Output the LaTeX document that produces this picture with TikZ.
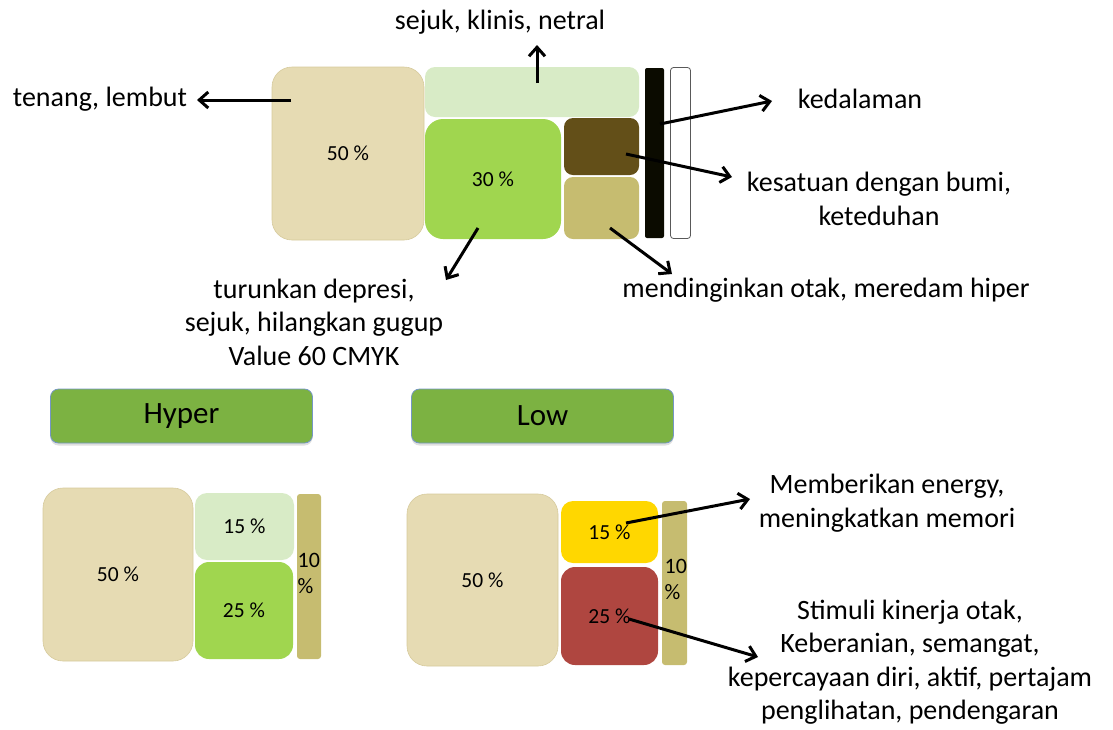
\documentclass[tikz,border=0pt]{standalone}
\usepackage{fontspec}
\setmainfont{Carlito}
\usetikzlibrary{arrows.meta,shadows}
\definecolor{beige}{HTML}{E6DBB3}
\definecolor{beigeline}{HTML}{D6CA9C}
\definecolor{lgreen}{HTML}{D8EBC6}
\definecolor{mgreen}{HTML}{A0D64F}
\definecolor{dbrown}{HTML}{634F18}
\definecolor{khaki}{HTML}{C6BC70}
\definecolor{nblack}{HTML}{0B0B00}
\definecolor{yel}{HTML}{FFD700}
\definecolor{rd}{HTML}{AF4640}
\definecolor{hdr}{HTML}{7CB242}
\definecolor{hdrline}{HTML}{7596C4}
\tikzset{
  blk/.style={inner sep=0pt, outer sep=0pt, font=\fontsize{21.5}{25}\selectfont},
  lbl/.style={align=center, inner sep=0pt, font=\fontsize{28}{33.5}\selectfont},
  hdrbox/.style={fill=hdr, draw=hdrline, line width=0.8pt, rounded corners=8pt, inner sep=0pt,
    minimum width=262pt, minimum height=54pt, font=\fontsize{31}{36}\selectfont,
    drop shadow={opacity=0.25, shadow xshift=0pt, shadow yshift=-2.5pt}},
  arr/.style={line width=3pt, -{Straight Barb[length=9pt,width=16pt,line width=3pt]}},
  ten/.style={align=left, anchor=north west, inner sep=0pt, font=\fontsize{22}{26}\selectfont}
}
\begin{document}
\begin{tikzpicture}[x=1pt,y=-1pt]
\useasboundingbox (0,0) rectangle (1113,729);
% ---------- top section ----------
\node[blk, fill=beige, draw=beigeline, line width=0.6pt, rounded corners=20pt, minimum width=152pt, minimum height=173pt] (b50) at (348,153.5) {50 \%};
\node[blk, fill=lgreen, rounded corners=10pt, minimum width=214pt, minimum height=50pt] (lg) at (532,92) {};
\node[blk, fill=mgreen, rounded corners=18pt, minimum width=136pt, minimum height=120pt] (g30) at (493,179) {30 \%};
\node[blk, fill=dbrown, rounded corners=9pt, minimum width=75pt, minimum height=57pt] (br) at (601.5,146.5) {};
\node[blk, fill=khaki, rounded corners=9pt, minimum width=75pt, minimum height=62pt] (kh) at (601.5,208) {};
\node[blk, fill=nblack, rounded corners=2pt, minimum width=19pt, minimum height=170pt] (bk) at (654.5,153) {};
\node[blk, fill=white, draw=black!65, line width=0.8pt, rounded corners=3pt, minimum width=20pt, minimum height=171pt] (wh) at (680.5,153) {};

\node[lbl] (tsejuk) at (500,22) {sejuk, klinis, netral};
\node[lbl] (ttenang) at (100,99) {tenang, lembut};
\node[lbl] (tkedal) at (860,99) {kedalaman};
\node[lbl] (tkesat) at (879,199) {kesatuan dengan bumi,\\keteduhan};
\node[lbl] (tmend) at (826,290) {mendinginkan otak, meredam hiper};
\node[lbl] (tturun) at (314,322) {turunkan depresi,\\sejuk, hilangkan gugup\\Value 60 CMYK};

\coordinate (s1) at (537,83);   \coordinate (e1) at (537,45);
\coordinate (s2) at (291,100);  \coordinate (e2) at (197,100);
\coordinate (s3) at (660,124);  \coordinate (e3) at (772,101);
\coordinate (s4) at (626,154);  \coordinate (e4) at (732,177);
\coordinate (s5) at (610,228);  \coordinate (e5) at (672,274);
\coordinate (s6) at (478,228);  \coordinate (e6) at (446,280);
\draw[arr] (s1) -- (e1);
\draw[arr] (s2) -- (e2);
\draw[arr] (s3) -- (e3);
\draw[arr] (s4) -- (e4);
\draw[arr] (s5) -- (e5);
\draw[arr] (s6) -- (e6);

% ---------- Hyper ----------
\node[hdrbox] (hyper) at (181.5,416) {Hyper};
\node[blk, fill=beige, draw=beigeline, line width=0.6pt, rounded corners=20pt, minimum width=150pt, minimum height=173pt] (h50) at (118,574.5) {50 \%};
\node[blk, fill=lgreen, rounded corners=12pt, minimum width=99pt, minimum height=67pt] (h15) at (244.5,526.5) {15 \%};
\node[blk, fill=mgreen, rounded corners=14pt, minimum width=98pt, minimum height=97pt] (h25) at (244,610.5) {25 \%};
\node[blk, fill=khaki, rounded corners=3pt, minimum width=24pt, minimum height=165pt] (h10) at (309,576.5) {};
\node[ten] (h10t) at (297.5,553) {10\\\%};

% ---------- Low ----------
\node[hdrbox] (low) at (542.5,416) {Low};
\node[blk, fill=beige, draw=beigeline, line width=0.6pt, rounded corners=20pt, minimum width=151pt, minimum height=172pt] (l50) at (482.5,580) {50 \%};
\node[blk, fill=yel, rounded corners=12pt, minimum width=97pt, minimum height=62pt] (l15) at (609.5,532) {15 \%};
\node[blk, fill=rd, rounded corners=14pt, minimum width=97pt, minimum height=98pt] (l25) at (609.5,616) {25 \%};
\node[blk, fill=khaki, rounded corners=3pt, minimum width=25pt, minimum height=164pt] (l10) at (674.5,583) {};
\node[ten] (l10t) at (664.5,559) {10\\\%};

\node[lbl] (tmemb) at (887,503) {Memberikan energy,\\meningkatkan memori};
\node[lbl] (tstim) at (910,662) {Stimuli kinerja otak,\\Keberanian, semangat,\\kepercayaan diri, aktif, pertajam\\penglihatan, pendengaran};

\coordinate (s7) at (626,523);  \coordinate (e7) at (750,499);
\coordinate (s8) at (629,619);  \coordinate (e8) at (758,657);
\draw[arr] (s7) -- (e7);
\draw[arr] (s8) -- (e8);
\end{tikzpicture}
\end{document}
